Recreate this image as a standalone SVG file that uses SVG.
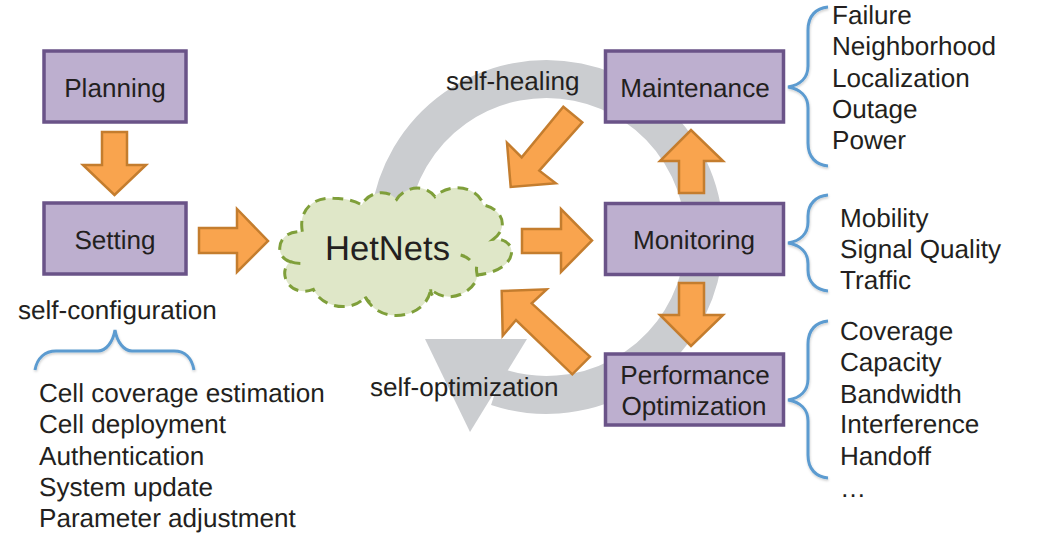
<svg xmlns="http://www.w3.org/2000/svg" width="1045" height="536" viewBox="0 0 1045 536">
<defs>
<filter id="soft" x="-20%" y="-20%" width="140%" height="140%"><feDropShadow dx="0.5" dy="1.5" stdDeviation="1" flood-color="#000" flood-opacity="0.2"/></filter>
</defs>
<style>
text{font-family:"Liberation Sans",Arial,sans-serif;font-size:26.100px;fill:#231f20;text-rendering:geometricPrecision}
.c{text-anchor:middle}
.box{fill:#bdafcf;stroke:#6a5388;stroke-width:3.500}
.arrow{fill:#f9a44e;stroke:#c47d2e;stroke-width:2.500}
.brace{fill:none;stroke:#5b9bd0;stroke-width:3;filter:url(#soft)}
.ring{fill:none;stroke:#cbcdd0;stroke-width:38}
.cloud{fill:#dfe7c8;stroke:#7f9f3a;stroke-width:9;stroke-dasharray:32 21}
</style>
<rect width="1045" height="536" fill="#fff"/>
<g id="cycle">
<path class="ring" d="M390 215A158 158 0 1 1 497 387"/>
<path d="M425 339H527L470 432Z" fill="#cbcdd0"/>
</g>
<g id="connectors">
<path class="arrow" d="M102 132H127V165H146L114.500 195 83 165H102Z"/>
<path class="arrow" d="M199 228H237V209L268 241 237 272V253H199Z"/>
<path class="arrow" d="M522 229H561V209L592 240.500 561 272V253H522Z"/>
<path class="arrow" d="M679 193V161H660L691 130 723 161H704V193Z"/>
<path class="arrow" d="M679 283H704V315H723L691 346 660 315H679Z"/>
<path class="arrow" d="M563.300 106.700 582.300 122.300 539.300 170.700 555.700 183.300 510.700 187 507 142.700 521.700 157.300Z"/>
<path class="arrow" d="M590 356.700 572.300 374.300 516 320 502.700 335.700 501.700 291 546.700 289.300 531.700 303.300Z"/>
</g>
<g id="hetnets">
<g transform="translate(270 40) scale(.3333)">
<path class="cloud" d="M97 575C85 510 130 470 190 475C225 475 255 482 275 495C290 462 345 440 380 478C405 440 465 430 495 470C540 425 625 440 640 495C695 505 720 560 670 598C745 590 755 690 622 705C620 750 540 800 482 748C470 835 330 860 285 770C255 815 160 810 130 748C60 775 20 700 60 665C10 650 20 570 97 575Z"/>
<path class="cloud" style="fill:none" d="M572 645Q590 650 600 660M620 680Q618 692 622 705M482 748Q482 758 487 767M285 770Q290 780 300 787M60 665Q80 672 107 670"/>
</g>
<text class="c" x="387.500" y="260" style="font-size:34.600px">HetNets</text>
</g>
<g id="planning"><rect class="box" x="44" y="51" width="142" height="71"/><text class="c" x="115" y="97">Planning</text></g>
<g id="setting"><rect class="box" x="44" y="203" width="142" height="71"/><text class="c" x="115" y="249">Setting</text></g>
<g id="maintenance"><rect class="box" x="605.500" y="51" width="178" height="71"/><text class="c" x="695" y="97">Maintenance</text></g>
<g id="monitoring"><rect class="box" x="605.500" y="203.500" width="178" height="71"/><text class="c" x="694" y="249">Monitoring</text></g>
<g id="performance"><rect class="box" x="605.500" y="354" width="178" height="71"/><text class="c" x="695" y="384">Performance</text><text class="c" x="694" y="415">Optimization</text></g>
<g id="labels">
<text x="446" y="90">self-healing</text>
<text x="370" y="396">self-optimization</text>
<text x="18" y="319">self-configuration</text>
</g>
<g id="config-list">
<path class="brace" d="M35 370C37 358 45 351 56 351H98C106 351 113 342 115 330C117 342 124 351 132 351H174C185 351 192 358 194 370"/>
<text x="39" y="402">Cell coverage estimation</text>
<text x="39" y="433">Cell deployment</text>
<text x="39" y="465">Authentication</text>
<text x="39" y="496">System update</text>
<text x="39" y="527">Parameter adjustment</text>
</g>
<g id="healing-list">
<path class="brace" d="M828 7C816 8 808 16 808 30V66C808 78 800 85 788 87C800 89 808 96 808 108V143C808 157 816 165 828 166"/>
<text x="832" y="24">Failure</text>
<text x="832" y="55">Neighborhood</text>
<text x="832" y="87">Localization</text>
<text x="832" y="118">Outage</text>
<text x="832" y="149">Power</text>
</g>
<g id="monitoring-list">
<path class="brace" d="M828 195C816 196 808 204 808 216V222C808 234 800 241 788 243C800 245 808 252 808 264V270C808 282 816 290 828 291"/>
<text x="840" y="227">Mobility</text>
<text x="840" y="258">Signal Quality</text>
<text x="840" y="289">Traffic</text>
</g>
<g id="optimization-list">
<path class="brace" d="M828 321C816 322 808 330 808 344V379C808 391 800 398 788 400C800 402 808 409 808 421V455C808 469 816 477 828 478"/>
<text x="840" y="340">Coverage</text>
<text x="840" y="371">Capacity</text>
<text x="840" y="403">Bandwidth</text>
<text x="840" y="433">Interference</text>
<text x="840" y="465">Handoff</text>
<text x="840" y="497">…</text>
</g>
</svg>
